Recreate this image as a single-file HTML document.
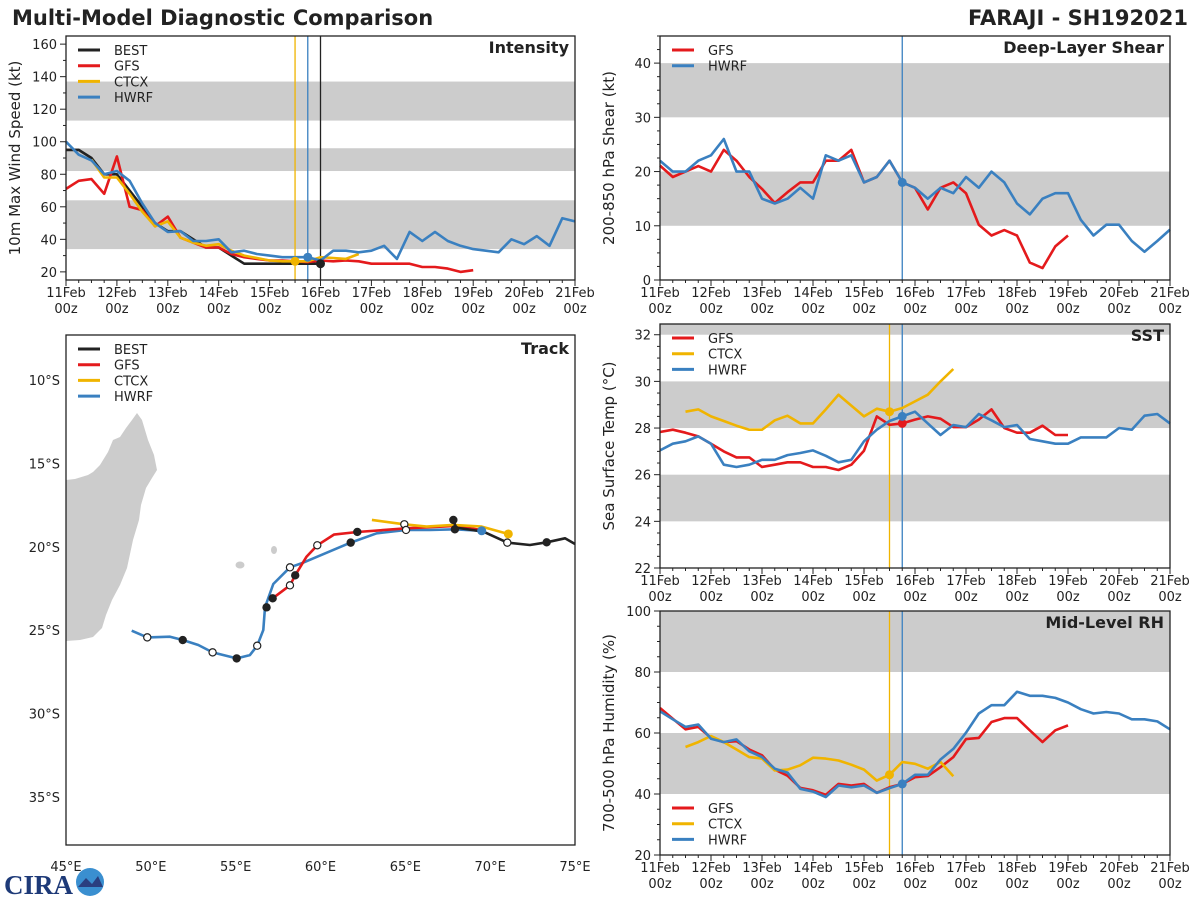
<!DOCTYPE html>
<html><head><meta charset="utf-8">
<style>
html,body{margin:0;padding:0;background:#fff;}
svg{display:block;font-family:"DejaVu Sans","Liberation Sans",sans-serif;}
</style></head>
<body>
<svg id="fig" width="1200" height="900" viewBox="0 0 1200 900" xmlns="http://www.w3.org/2000/svg">
<text x="12" y="25" font-size="21" font-weight="bold" fill="#222">Multi-Model Diagnostic Comparison</text>
<text x="1188" y="25" font-size="21" font-weight="bold" fill="#222" text-anchor="end">FARAJI - SH192021</text>
<g>
<text x="4" y="894" font-size="27" font-weight="bold" fill="#1e3a78" font-family="Liberation Serif,serif">CIRA</text>
<circle cx="90" cy="882" r="14" fill="#3a8fd0"/>
<path d="M78,887 L86,878 L92,884 L98,876 L103,887 Z" fill="#2a3f80"/>
</g>
</svg>
<script>
// ---------- data ----------
const dayLabels = ["11Feb","12Feb","13Feb","14Feb","15Feb","16Feb","17Feb","18Feb","19Feb","20Feb","21Feb"];
const intBest = [95,95,90,80,80,70,60,50,45,45,40,35,35,30,25,25,25,25,25,25,25];
const intGfs = [71,76,77,68,91,60,58,48,54,41,38,35,35,31,29,28,27,27,26.5,26,27,26.5,27,26.5,25,25,25,25,23,23,22,20,21];
const intCtcx = [null,null,89,78,78,68,57,48,51,41,38,36,37,33,30,28.5,27,26.5,26.5,26.5,29,28.5,28,31];
const intHwrf = [100,92,88.5,80,82,76,62,50,44.6,45,39,39,40,32,33,31,30,29,29,29,27,33,33,32,33,36,28,44.6,39,44.6,39,36,34,33,32,40,37,42,36,53,51];
const shrGfs = [21.1,19,20,21,20,24,22,19,16.8,14.2,16.2,18,18,22,22,24,18,19,22,18,17,13,17,18,16,10.2,8.2,9.2,8.2,3.2,2.2,6.2,8.2];
const shrHwrf = [22,20,20,22,23,26,20,20,15,14.1,15,17,15,23,22,23,18,19,22,18,17,15,17,16,19,17,20,18,14.1,12.1,15,16,16,11.1,8.2,10.2,10.2,7.2,5.2,7.2,9.3];
const sstGfs = [27.83,27.93,27.8,27.64,27.33,27.0,26.74,26.74,26.33,26.43,26.53,26.53,26.33,26.33,26.2,26.43,27.03,28.5,28.14,28.2,28.36,28.5,28.4,28.04,28.04,28.36,28.8,28,27.8,27.8,28.1,27.7,27.7];
const sstCtcx = [null,null,28.7,28.8,28.5,28.3,28.1,27.93,27.93,28.33,28.53,28.2,28.2,28.8,29.43,28.96,28.5,28.83,28.7,28.86,29.14,29.43,30,30.53];
const sstHwrf = [27.04,27.33,27.43,27.64,27.33,26.43,26.33,26.43,26.64,26.64,26.84,26.93,27.04,26.81,26.53,26.64,27.43,27.93,28.3,28.5,28.7,28.2,27.7,28.13,28.04,28.6,28.33,28.04,28.13,27.53,27.43,27.33,27.33,27.6,27.6,27.6,28,27.93,28.53,28.6,28.2];
const rhGfs = [68.2,64.7,61.2,62,58.4,57,57.3,54.6,52.7,48,46,42,41.2,39.7,43.3,42.8,43.3,40.4,42.2,43.3,45.5,45.9,48.8,52.1,58,58.4,63.6,64.9,64.9,60.9,57,60.9,62.5];
const rhCtcx = [null,null,55.4,57,59,57,54.6,52.1,51.6,47.7,48,49.4,51.9,51.6,51,49.6,48,44.4,46.3,50.5,49.9,48.3,50.5,45.8];
const rhHwrf = [67.1,64.5,62,62.8,58.1,57,57.9,54,52.1,48.3,47,41.7,40.8,39,42.8,42.2,42.8,40.4,41.9,43.3,46.3,46.3,51.3,54.8,60.1,66.4,69.1,69.1,73.5,72.2,72.2,71.5,70,67.8,66.4,66.9,66.4,64.5,64.5,63.8,61.2];
// track (lon E, lat)
const bestLon = [67.83,67.99,69.59,71.01,72.34,73.33,74.41,75.0];
const bestLat = [-18.39,-18.85,-19.09,-19.75,-19.89,-19.73,-19.49,-19.83];
const gfsLon = [57.18,58.20,58.51,59.18,59.81,60.79,62.17,65.07,67.92,69.5];
const gfsLat = [-23.09,-22.31,-21.71,-20.59,-19.91,-19.27,-19.11,-18.89,-18.75,-18.99];
const ctcxLon = [63.03,64.94,66.25,67.83,69.5,71.07];
const ctcxLat = [-18.39,-18.65,-18.79,-18.69,-18.79,-19.23];
const hwrfLon = [48.87,49.79,51.13,51.88,52.80,53.64,55.06,55.84,56.27,56.63,56.73,57.22,58.20,58.99,61.78,63.31,65.04,66.45,67.92,69.5];
const hwrfLat = [-25.03,-25.43,-25.39,-25.59,-25.89,-26.33,-26.69,-26.49,-25.93,-24.99,-23.63,-22.23,-21.23,-20.95,-19.75,-19.19,-18.99,-18.99,-18.95,-19.04];
const mkLon = [49.79,51.88,53.64,55.06,56.27,56.82,57.18,58.20,58.51,58.20,59.81,61.78,62.17,64.94,65.04,67.83,67.92,71.01,73.33];
const mkLat = [-25.43,-25.59,-26.33,-26.69,-25.93,-23.63,-23.09,-22.31,-21.71,-21.23,-19.91,-19.75,-19.11,-18.65,-18.99,-18.39,-18.95,-19.75,-19.73];
const mkFilled = [0,1,0,1,0,1,1,0,1,0,0,1,1,0,0,1,1,0,1];

// ---------- helpers ----------
const NS = "http://www.w3.org/2000/svg";
const svg = document.getElementById("fig");
const C = {best:"#222222", gfs:"#e41a1c", ctcx:"#f0b400", hwrf:"#3a80c0", band:"#cccccc", ax:"#222"};
function mk(tag, attrs, parent){
  const e = document.createElementNS(NS, tag);
  for (const k in attrs) e.setAttribute(k, attrs[k]);
  (parent||svg).appendChild(e);
  return e;
}
function txt(x,y,s,size,anchor,parent,weight){
  const t = mk("text",{x:x,y:y,"font-size":size,"text-anchor":anchor||"start",fill:"#222"},parent);
  if (weight) t.setAttribute("font-weight",weight);
  t.textContent = s;
  return t;
}

function timePanel(p){
  const g = mk("g",{});
  
  
  const X = i => p.l + (p.r - p.l) * i / 40;
  const Y = v => p.b - (p.b - p.t) * (v - p.ymin) / (p.ymax - p.ymin);
  p.bands.forEach(bd => {
    const r = mk("rect",{x:p.l, y:Y(Math.min(bd[1],p.ymax)), width:p.r-p.l, height:Y(bd[0])-Y(Math.min(bd[1],p.ymax)), fill:C.band}, g);
    
    
  });
  p.vlines.forEach(vl => {
    const l = mk("line",{x1:X(vl[0]),x2:X(vl[0]),y1:p.t,y2:p.b,stroke:vl[1],"stroke-width":1.3}, g);
    
    
  });
  p.series.forEach(s => {
    let d = "";
    s.data.forEach((v,i) => { if (v === null) return; d += (d ? "L" : "M") + X(i).toFixed(1) + "," + Y(v).toFixed(1); });
    const pth = mk("path",{d:d,fill:"none",stroke:s.color,"stroke-width":2.6,"stroke-linejoin":"round"}, g);
    
    
  });
  p.dots.forEach(dt => {
    const s = p.series.find(q => q.key === dt[0]);
    const c = mk("circle",{cx:X(dt[1]),cy:Y(s.data[dt[1]]),r:4.5,fill:s.color}, g);
    
    
  });
  const fr = mk("rect",{x:p.l,y:p.t,width:p.r-p.l,height:p.b-p.t,fill:"none",stroke:C.ax,"stroke-width":1.3}, g);
  
  
  for (let i = 0; i <= 40; i++){
    const major = i % 4 === 0;
    mk("line",{x1:X(i),x2:X(i),y1:p.b,y2:p.b+(major?6:3),stroke:C.ax,"stroke-width":1}, g);
    if (major){
      const t1 = txt(X(i), p.b+17, dayLabels[i/4], 13, "middle", g);
      
      
      const t2 = txt(X(i), p.b+33, "00z", 13, "middle", g);
      
      
    }
  }
  for (let v = p.ymin0; v <= p.ymax + 1e-6; v += p.minor){
    const major = Math.abs(((v - p.ymin0) / p.major) - Math.round((v - p.ymin0) / p.major)) < 1e-6;
    mk("line",{x1:p.l,x2:p.l-(major?6:3),y1:Y(v),y2:Y(v),stroke:C.ax,"stroke-width":1}, g);
    if (major){
      const t = txt(p.l-9, Y(v)+5, String(Math.round(v)), 13, "end", g);
      
      
    }
  }
  const yt = txt(0,0,p.ylabel,15,"middle",g);
  yt.setAttribute("transform","translate("+(p.l-46)+","+((p.t+p.b)/2)+") rotate(-90)");
  
  
  const pt = txt(p.r-6, p.t+17, p.title, 16, "end", g, "bold");
  
  
  legend(g, p.l+12, p.legendY, p.series);
}
function legend(g, x, y, series){
  series.forEach((s,k) => {
    const yy = y + k*15.7;
    const ln = mk("line",{x1:x,x2:x+22,y1:yy,y2:yy,stroke:s.color,"stroke-width":3}, g);
    
    
    const t = txt(x+36, yy+5, s.label, 13, "start", g);
    
    
  });
}

timePanel({name:"intensity-panel",l:66,r:575,t:36,b:280,ymin:15,ymax:165,ymin0:20,major:20,minor:10,
  bands:[[34,64],[82,96],[113,137]],vlines:[[18,C.ctcx],[19,C.hwrf],[20,C.best]],
  series:[{key:"best",label:"BEST",color:C.best,data:intBest},{key:"gfs",label:"GFS",color:C.gfs,data:intGfs},{key:"ctcx",label:"CTCX",color:C.ctcx,data:intCtcx},{key:"hwrf",label:"HWRF",color:C.hwrf,data:intHwrf}],
  dots:[["ctcx",18],["hwrf",19],["best",20]],ylabel:"10m Max Wind Speed (kt)",title:"Intensity",legendY:50});
timePanel({name:"shear-panel",l:660,r:1170,t:36,b:280,ymin:0,ymax:45,ymin0:0,major:10,minor:2.5,
  bands:[[10,20],[30,40]],vlines:[[19,C.hwrf]],
  series:[{key:"gfs",label:"GFS",color:C.gfs,data:shrGfs},{key:"hwrf",label:"HWRF",color:C.hwrf,data:shrHwrf}],
  dots:[["hwrf",19]],ylabel:"200-850 hPa Shear (kt)",title:"Deep-Layer Shear",legendY:50});
timePanel({name:"sst-panel",l:660,r:1170,t:324,b:568,ymin:22,ymax:32.46,ymin0:22,major:2,minor:0.5,
  bands:[[24,26],[28,30],[32,33]],vlines:[[18,C.ctcx],[19,C.hwrf]],
  series:[{key:"gfs",label:"GFS",color:C.gfs,data:sstGfs},{key:"ctcx",label:"CTCX",color:C.ctcx,data:sstCtcx},{key:"hwrf",label:"HWRF",color:C.hwrf,data:sstHwrf}],
  dots:[["ctcx",18],["gfs",19],["hwrf",19]],ylabel:"Sea Surface Temp (°C)",title:"SST",legendY:338});
timePanel({name:"rh-panel",l:660,r:1170,t:611,b:855,ymin:20,ymax:100,ymin0:20,major:20,minor:5,
  bands:[[40,60],[80,100]],vlines:[[18,C.ctcx],[19,C.hwrf]],
  series:[{key:"gfs",label:"GFS",color:C.gfs,data:rhGfs},{key:"ctcx",label:"CTCX",color:C.ctcx,data:rhCtcx},{key:"hwrf",label:"HWRF",color:C.hwrf,data:rhHwrf}],
  dots:[["ctcx",18],["hwrf",19]],ylabel:"700-500 hPa Humidity (%)",title:"Mid-Level RH",legendY:808});

// ---------- track panel ----------
(function(){
  const L=66,R=575,T=335,B=845, lon0=45, lon1=75;
  const LX = lon => L + (R-L)*(lon-lon0)/(lon1-lon0);
  const LY = lat => 380 + (-lat - 10) * 16.68;
  const g = mk("g",{});
  
  
  const land = mk("path",{d:"M66,480 L75,479 L88,475 L93,472 L100,465 L108,452 L113,440 L120,437 L126,428 L132,420 L137,413 L142,420 L148,440 L154,455 L157,470 L152,478 L146,488 L141,505 L139,520 L133,540 L127,568 L120,585 L112,600 L106,615 L102,628 L93,637 L80,640 L66,641 Z",fill:"#cccccc"},g);
  
  
  const i1 = mk("ellipse",{cx:240,cy:565,rx:4.5,ry:3.5,fill:"#cccccc"},g);
  
  
  const i2 = mk("ellipse",{cx:274,cy:550,rx:3,ry:4,fill:"#cccccc"},g);
  
  
  function track(lons, lats, color, key){
    const d = lons.map((v,i)=>(i?"L":"M")+LX(v).toFixed(1)+","+LY(lats[i]).toFixed(1)).join("");
    const p = mk("path",{d:d,fill:"none",stroke:color,"stroke-width":2.6,"stroke-linejoin":"round"},g);
    
    
  }
  track(hwrfLon,hwrfLat,C.hwrf,"hwrf");
  track(gfsLon,gfsLat,C.gfs,"gfs");
  track(ctcxLon,ctcxLat,C.ctcx,"ctcx");
  track(bestLon,bestLat,C.best,"best");
  mkLon.forEach((lon,i)=>{
    const c = mk("circle",{cx:LX(lon),cy:LY(mkLat[i]),r:3.6,fill:mkFilled[i]?"#222":"#fff",stroke:"#222","stroke-width":1.2},g);
    
    
  });
  const e1 = mk("circle",{cx:LX(hwrfLon[hwrfLon.length-1]),cy:LY(hwrfLat[hwrfLat.length-1]),r:4.5,fill:C.hwrf},g);
  
  
  const e2 = mk("circle",{cx:LX(ctcxLon[ctcxLon.length-1]),cy:LY(ctcxLat[ctcxLat.length-1]),r:4.5,fill:C.ctcx},g);
  
  
  const fr = mk("rect",{x:L,y:T,width:R-L,height:B-T,fill:"none",stroke:C.ax,"stroke-width":1.3},g);
  
  
  for (let lon=45; lon<=75; lon+=5){
    const t = txt(LX(lon), 871, lon+"°E", 13, "middle", g);
    
    
  }
  for (let lat=10; lat<=35; lat+=5){
    const t = txt(L-6, LY(-lat)+5, lat+"°S", 13, "end", g);
    
    
  }
  const pt = txt(R-6, T+19, "Track", 16, "end", g, "bold");
  
  
  legend(g, L+12, 349, [{label:"BEST",color:C.best},{label:"GFS",color:C.gfs},{label:"CTCX",color:C.ctcx},{label:"HWRF",color:C.hwrf}]);
})();
</script>
</body></html>
